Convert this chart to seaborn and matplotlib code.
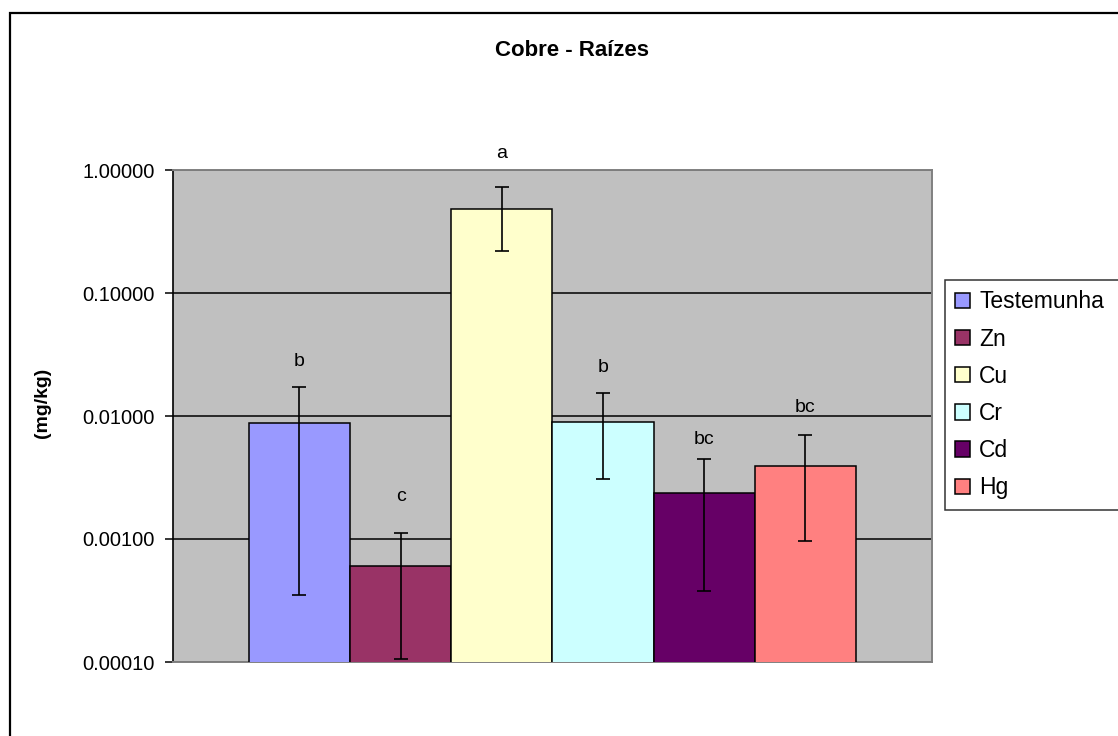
import numpy as np
import matplotlib
matplotlib.use("Agg")
import matplotlib.pyplot as plt
from matplotlib.patches import Patch, Rectangle
from matplotlib.ticker import FuncFormatter, FixedLocator, NullLocator
import seaborn as sns

# ── data ────────────────────────────────────────────────────────
treatments = ["Testemunha", "Zn", "Cu", "Cr", "Cd", "Hg"]
means = [0.00871, 0.000608, 0.478, 0.00897, 0.00235, 0.00394]
err_high = [0.0171, 0.00111, 0.721, 0.01525, 0.00445, 0.0070]   # upper end of bar
err_low = [0.000352, 0.000106, 0.218, 0.00305, 0.00038, 0.00096]  # lower end of bar
letters = ["b", "c", "a", "b", "bc", "bc"]
letter_y = [0.0277, 0.0022, 1.35, 0.0249, 0.00649, 0.0118]
colors = ["#9999FF", "#993366", "#FFFFCC", "#CCFFFF", "#660066", "#FF8080"]
y_ticks = [0.0001, 0.001, 0.01, 0.1, 1.0]

# ── style ───────────────────────────────────────────────────────
sns.set_style("white")
plt.rcParams["font.family"] = ["Liberation Sans", "DejaVu Sans"]
plt.rcParams["text.color"] = "black"
plt.rcParams["ytick.labelcolor"] = "black"
plt.rcParams["axes.labelcolor"] = "black"

W, H = 1118, 736
fig = plt.figure(figsize=(W / 100, H / 100), dpi=100)
ax = fig.add_axes([173 / W, 1 - 662 / H, (932 - 173) / W, (662 - 170) / H])
ax.set_facecolor("#C0C0C0")

sns.barplot(x=treatments, y=means, hue=treatments, palette=colors, dodge=False,
            saturation=1, width=1.0, edgecolor="black", linewidth=1.1,
            legend=False, ax=ax, zorder=3)
ax.set_yscale("log")
ax.set_ylim(y_ticks[0], y_ticks[-1])
ax.set_xlim(-1.25, 6.25)

x = np.arange(len(treatments))
m = np.array(means)
yerr = [m - np.array(err_low), np.array(err_high) - m]
ax.errorbar(x, m, yerr=yerr, fmt="none", ecolor="black", elinewidth=1.2,
            capsize=5, capthick=1.2, zorder=4)

for xi, ly, t in zip(x, letter_y, letters):
    ax.text(xi, ly, t, ha="center", va="center", fontsize=14, clip_on=False)

# axes / grid
ax.yaxis.set_major_locator(FixedLocator(y_ticks))
ax.yaxis.set_minor_locator(NullLocator())
ax.yaxis.set_major_formatter(FuncFormatter(lambda v, p: f"{v:.5f}"))
ax.tick_params(axis="y", direction="out", length=6, width=1.1, color="black",
               labelsize=14.5, labelcolor="black", pad=7, left=True)
ax.set_xticks([])
ax.set_xlabel("")
ax.yaxis.grid(True, color="black", linewidth=1.1, zorder=1)
ax.set_axisbelow(True)
for side in ["top", "right", "bottom"]:
    ax.spines[side].set_color("#808080")
    ax.spines[side].set_linewidth(1.4)
ax.spines["left"].set_color("black")
ax.spines["left"].set_linewidth(1.2)

# titles
fig.text(572 / W, 1 - 50 / H, "Cobre - Raízes", ha="center", va="center",
         fontsize=16, fontweight="bold")
fig.text(43 / W, 1 - 403 / H, "(mg/kg)", ha="center", va="center",
         rotation=90, fontsize=14, fontweight="bold")

# legend, running off the right edge like the original
handles = [Patch(facecolor=c, edgecolor="black", linewidth=1.1) for c in colors]
leg = fig.legend(handles, treatments, loc="upper left", mode="expand",
                 bbox_to_anchor=(945 / W, 1 - 280 / H, 0.3, 0), fontsize=16.5,
                 frameon=True, fancybox=False, shadow=False, borderpad=0.45,
                 handlelength=0.65, handleheight=0.65, handletextpad=0.4,
                 labelspacing=0.62, borderaxespad=0)
leg.get_frame().set_edgecolor("black")
leg.get_frame().set_linewidth(1.1)

# outer chart border
fig.add_artist(Rectangle((9.5 / W, -0.1), 1.2, 1.1 - 13 / H, transform=fig.transFigure,
                         fill=False, edgecolor="black", linewidth=1.6))

fig.savefig("out.png", dpi=100)
